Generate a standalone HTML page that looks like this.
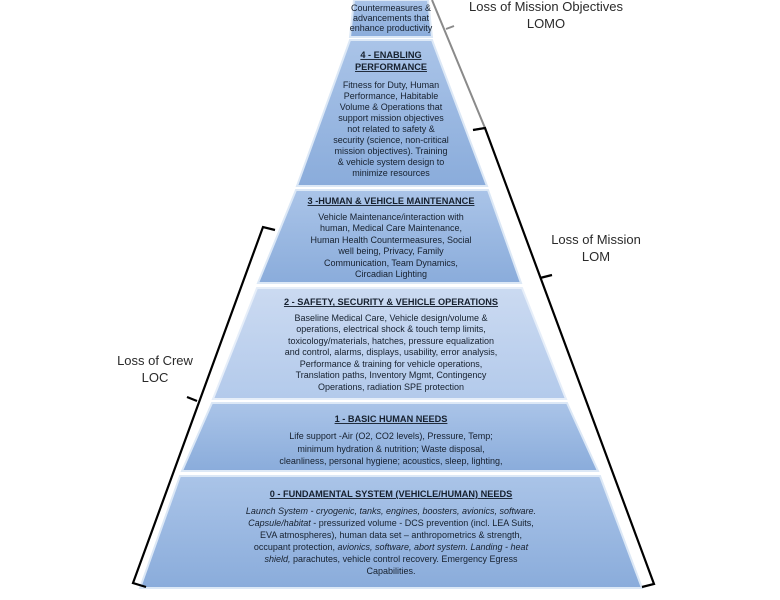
<!DOCTYPE html>
<html><head><meta charset="utf-8"><style>
html,body{margin:0;padding:0;background:#fff;}
svg{display:block;}
.t{font-family:"Liberation Sans",sans-serif;font-size:9px;fill:#16202e;text-anchor:middle;}
.h{font-weight:bold;text-decoration:underline;font-size:9.2px;}
.l{font-family:"Liberation Sans",sans-serif;font-size:13px;fill:#2a2a2a;text-anchor:middle;}
</style></head><body>
<svg width="780" height="600" viewBox="0 0 780 600" xmlns="http://www.w3.org/2000/svg">
<defs>
<linearGradient id="g1" x1="0" y1="0" x2="0" y2="1"><stop offset="0" stop-color="#aac4e8"/><stop offset="1" stop-color="#8aacdb"/></linearGradient>
<linearGradient id="g2" x1="0" y1="0" x2="0" y2="1"><stop offset="0" stop-color="#cbdaf1"/><stop offset="1" stop-color="#b3caeb"/></linearGradient>
</defs>
<polygon points="354,0 428,0 432,37 350,37" fill="url(#g1)" stroke="#dce8f6" stroke-width="2"/>
<polygon points="350,40 432,40 487,186 297,186" fill="url(#g1)" stroke="#dce8f6" stroke-width="2"/>
<polygon points="296,190 488,190 521,283 258,283" fill="url(#g1)" stroke="#dce8f6" stroke-width="2"/>
<polygon points="257,288 522,288 566,399 213,399" fill="url(#g2)" stroke="#e6eef9" stroke-width="2"/>
<polygon points="212,403 567,403 598,471 182,471" fill="url(#g1)" stroke="#dce8f6" stroke-width="2"/>
<polygon points="180,476 600,476 642,588 140,588" fill="url(#g1)" stroke="#dce8f6" stroke-width="2"/>

<text class="t" x="391" y="11" font-size="8.2">Countermeasures &amp;</text>
<text class="t" x="391" y="21" font-size="8.2">advancements that</text>
<text class="t" x="391" y="31" font-size="8.2">enhance productivity</text>
<text class="t h" x="391" y="58">4 - ENABLING</text>
<text class="t h" x="391" y="70">PERFORMANCE</text>
<text class="t" x="391" y="88">Fitness for Duty, Human</text>
<text class="t" x="391" y="99">Performance, Habitable</text>
<text class="t" x="391" y="110">Volume &amp; Operations that</text>
<text class="t" x="391" y="121">support mission objectives</text>
<text class="t" x="391" y="132">not related to safety &amp;</text>
<text class="t" x="391" y="143">security (science, non-critical</text>
<text class="t" x="391" y="154">mission objectives). Training</text>
<text class="t" x="391" y="165">&amp; vehicle system design to</text>
<text class="t" x="391" y="176">minimize resources</text>
<text class="t h" x="391" y="204">3 -HUMAN &amp; VEHICLE MAINTENANCE</text>
<text class="t" x="391" y="220">Vehicle Maintenance/interaction with</text>
<text class="t" x="391" y="231">human, Medical Care Maintenance,</text>
<text class="t" x="391" y="243">Human Health Countermeasures, Social</text>
<text class="t" x="391" y="254">well being, Privacy, Family</text>
<text class="t" x="391" y="266">Communication, Team Dynamics,</text>
<text class="t" x="391" y="277">Circadian Lighting</text>
<text class="t h" x="391" y="305">2 - SAFETY, SECURITY &amp; VEHICLE OPERATIONS</text>
<text class="t" x="391" y="321">Baseline Medical Care, Vehicle design/volume &amp;</text>
<text class="t" x="391" y="332">operations, electrical shock &amp; touch temp limits,</text>
<text class="t" x="391" y="344">toxicology/materials, hatches, pressure equalization</text>
<text class="t" x="391" y="355">and control, alarms, displays, usability, error analysis,</text>
<text class="t" x="391" y="367">Performance &amp; training for vehicle operations,</text>
<text class="t" x="391" y="378">Translation paths,  Inventory Mgmt, Contingency</text>
<text class="t" x="391" y="390">Operations, radiation SPE protection</text>
<text class="t h" x="391" y="422">1 - BASIC HUMAN NEEDS</text>
<text class="t" x="391" y="439">Life support -Air (O2, CO2 levels), Pressure, Temp;</text>
<text class="t" x="391" y="452">minimum hydration &amp; nutrition; Waste disposal,</text>
<text class="t" x="391" y="464">cleanliness, personal hygiene; acoustics, sleep, lighting,</text>
<text class="t h" x="391" y="497">0 - FUNDAMENTAL SYSTEM (VEHICLE/HUMAN) NEEDS</text>
<text class="t" x="391" y="514"><tspan font-style="italic">Launch System - cryogenic, tanks, engines, boosters, avionics, software.</tspan></text>
<text class="t" x="391" y="526"><tspan font-style="italic">Capsule/habitat</tspan> - pressurized volume - DCS prevention (incl. LEA Suits,</text>
<text class="t" x="391" y="538">EVA atmospheres), human data set – anthropometrics &amp; strength,</text>
<text class="t" x="391" y="550">occupant protection, <tspan font-style="italic">avionics, software, abort system. Landing - heat</tspan></text>
<text class="t" x="391" y="562"><tspan font-style="italic">shield,</tspan> parachutes, vehicle control recovery. Emergency Egress</text>
<text class="t" x="391" y="574">Capabilities.</text>

<polyline points="432,0 485,128 473,130" fill="none" stroke="#8a8a8a" stroke-width="2"/>
<line x1="446" y1="29" x2="454" y2="26" stroke="#8a8a8a" stroke-width="2"/>
<polyline points="473,130 485,128 654,584 642,587" fill="none" stroke="#000" stroke-width="2.2"/>
<line x1="540" y1="278" x2="552" y2="275" stroke="#000" stroke-width="2.2"/>
<polyline points="275,230 263,227 133,583 146,587" fill="none" stroke="#000" stroke-width="2.2"/>
<line x1="197" y1="401" x2="187" y2="397" stroke="#000" stroke-width="2.2"/>

<text class="l" x="546" y="11">Loss of Mission Objectives</text>
<text class="l" x="546" y="28">LOMO</text>
<text class="l" x="596" y="244">Loss of Mission</text>
<text class="l" x="596" y="261">LOM</text>
<text class="l" x="155" y="365">Loss of Crew</text>
<text class="l" x="155" y="382">LOC</text>
</svg>
</body></html>
